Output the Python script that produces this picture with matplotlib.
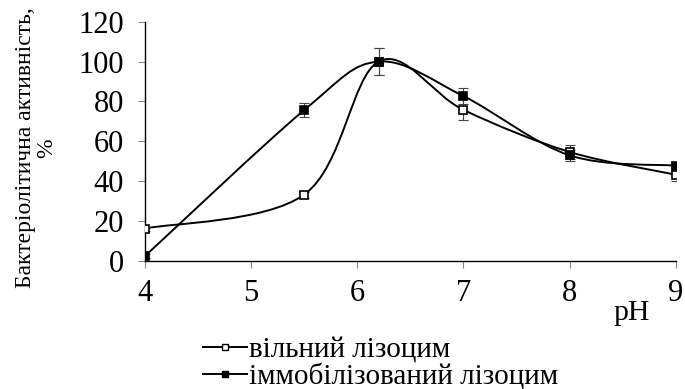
import numpy as np
import matplotlib
matplotlib.use("Agg")
import matplotlib.pyplot as plt
from matplotlib.path import Path
from matplotlib.patches import PathPatch

plt.rcParams['font.family'] = ['Liberation Serif', 'DejaVu Serif']

ph = [4, 5.5, 6.2, 7, 8, 9]
free_act = [16.3, 33.3, 100.0, 75.8, 54.7, 43.3]
free_err = [1.0, 1.5, 6.7, 5.3, 3.6, 3.0]
immob_act = [2.5, 75.7, 100.0, 82.7, 53.0, 47.8]
immob_err = [1.0, 3.5, 6.7, 4.0, 2.8, 1.5]

x_ticks = [4, 5, 6, 7, 8, 9]
y_ticks = [0, 20, 40, 60, 80, 100, 120]
labels = ["вільний лізоцим", "іммобілізований лізоцим"]


def smooth_path(xs, ys):
    # Excel-like smoothed line: cubic bezier through the points
    pts = np.column_stack([xs, ys]).astype(float)
    n = len(pts)
    verts = [pts[0]]
    codes = [Path.MOVETO]
    for i in range(n - 1):
        p0 = pts[i - 1] if i > 0 else pts[i]
        p1 = pts[i]
        p2 = pts[i + 1]
        p3 = pts[i + 2] if i + 2 < n else pts[i + 1]
        c1 = p1 + (p2 - p0) / 6.0
        c2 = p2 - (p3 - p1) / 6.0
        verts += [c1, c2, p2]
        codes += [Path.CURVE4] * 3
    return Path(verts, codes)


fig = plt.figure(figsize=(6.85, 3.89), dpi=100)
ax = fig.add_axes([0.2117, 0.329, 0.7747, 0.6152])

for ys, err, face in [(free_act, free_err, 'white'), (immob_act, immob_err, 'black')]:
    ax.add_patch(PathPatch(smooth_path(ph, ys), fill=False, lw=1.4, ec='black', zorder=2))
    ax.errorbar(ph, ys, yerr=err, fmt='none', ecolor='#444444', elinewidth=0.8,
                capsize=3.6, capthick=0.8, zorder=3)
    ax.plot(ph, ys, ls='none', marker='s', ms=6, mfc=face, mec='black', mew=1.2, zorder=4)

ax.set_xlim(4, 9)
ax.set_ylim(0, 120)
ax.set_xticks(x_ticks)
ax.set_yticks(y_ticks)
for s in ['top', 'right']:
    ax.spines[s].set_visible(False)
for s in ['left', 'bottom']:
    ax.spines[s].set_linewidth(1.0)
ax.tick_params(axis='x', labelsize=22, length=5, width=0.8, color='#888888', pad=8)
ax.tick_params(axis='y', labelsize=22, length=5, width=0.8, color='#888888', pad=10)

fig.text(0.922, 0.195, "pH", fontsize=21.5, ha='center', va='center')
fig.text(0.053, 0.62, "Бактеріолітична активність,\n%", fontsize=17, rotation=90,
         ha='center', va='center', linespacing=1.0)

h1, = ax.plot([], [], color='black', lw=1.4, marker='s', ms=5, mfc='white', mec='black')
h2, = ax.plot([], [], color='black', lw=1.4, marker='s', ms=5, mfc='black', mec='black')
fig.legend([h1, h2], labels, loc='upper left', bbox_to_anchor=(0.296, 0.134),
           frameon=False, fontsize=21, handlelength=1.5, handletextpad=0.1,
           labelspacing=0.0, borderaxespad=0, borderpad=0)

fig.savefig("out.png", dpi=100)
